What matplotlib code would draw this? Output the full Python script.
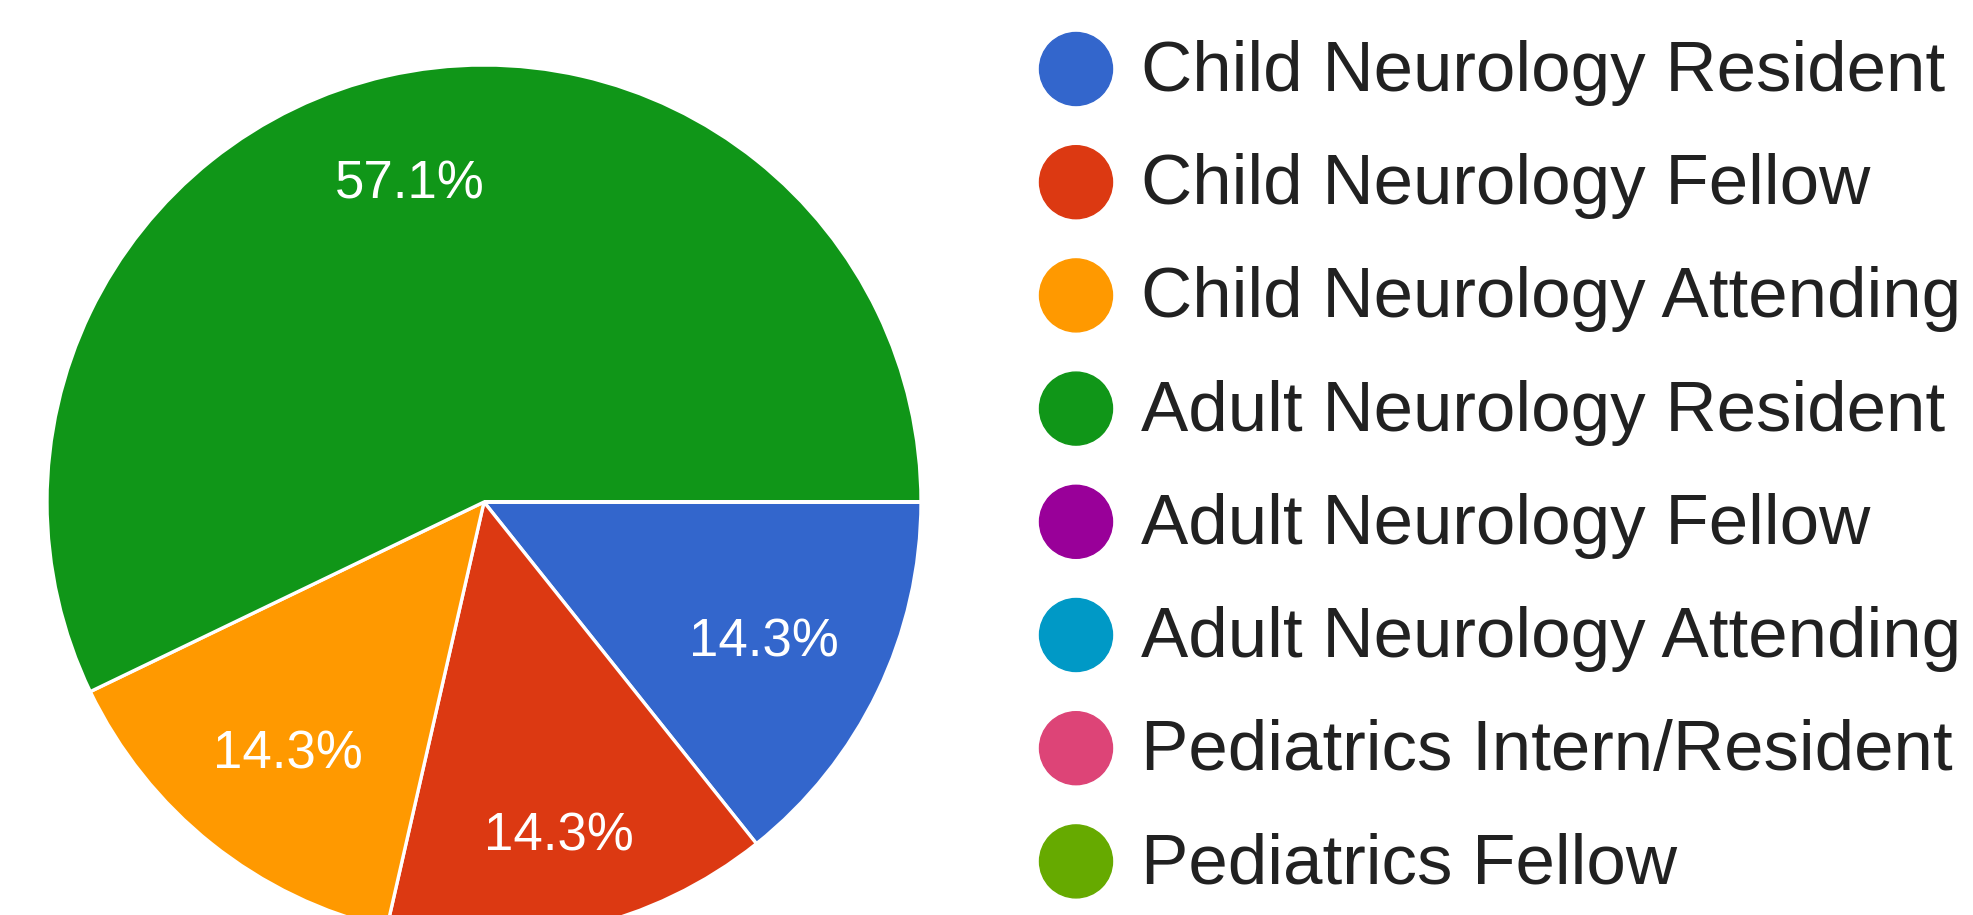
import matplotlib
matplotlib.use("Agg")
import matplotlib.pyplot as plt
from matplotlib.patches import Circle

plt.rcParams['font.family'] = ['Liberation Sans', 'DejaVu Sans']

# survey answers (7 responses)
categories = ["Child Neurology Resident", "Child Neurology Fellow",
              "Child Neurology Attending", "Adult Neurology Resident",
              "Adult Neurology Fellow", "Adult Neurology Attending",
              "Pediatrics Intern/Resident", "Pediatrics Fellow"]
counts = [1, 1, 1, 4, 0, 0, 0, 0]
colors = ["#3366cc", "#dc3912", "#ff9900", "#109618",
          "#990099", "#0099c6", "#dd4477", "#66aa00"]

W, H = 1973, 915
fig = plt.figure(figsize=(W / 100, H / 100), dpi=100)

# pie axes: centre (484, 502) px, radius 437 px
cx, cy, r = 484, 502, 437
ax = fig.add_axes([(cx - r) / W, (H - cy - r) / H, 2 * r / W, 2 * r / H])
wedges, texts, autotexts = ax.pie(
    counts, colors=colors, startangle=0, counterclock=False,
    autopct=lambda p: f"{p:.1f}%" if p > 0 else "",
    pctdistance=0.74, radius=1,
    wedgeprops=dict(edgecolor="white", linewidth=2.4),
    textprops=dict(color="white", fontsize=38))
# nudge label radii a bit like the original
label_r = [0.71, 0.77, 0.72, 0.76]
for t, lr in zip(autotexts, label_r + [0.74] * 4):
    x, y = t.get_position()
    d = (x * x + y * y) ** 0.5
    if d > 0:
        t.set_position((x / d * lr, y / d * lr - 0.014))
    t.set_va("center")
    t.set_ha("center")
ax.set_xlim(-1, 1)
ax.set_ylim(-1, 1)
ax.set_aspect("equal")
ax.axis("off")

# legend drawn in pixel space
lg = fig.add_axes([0, 0, 1, 1])
lg.set_xlim(0, W)
lg.set_ylim(H, 0)
lg.axis("off")
for i, (name, c) in enumerate(zip(categories, colors)):
    y = 69 + i * 113.2
    lg.add_patch(Circle((1076, y), 36.5, color=c))
    lg.text(1141, y + 4, name, fontsize=51, color="#212121",
            va="center", ha="left")

fig.savefig("out.png", dpi=100, facecolor="white")
